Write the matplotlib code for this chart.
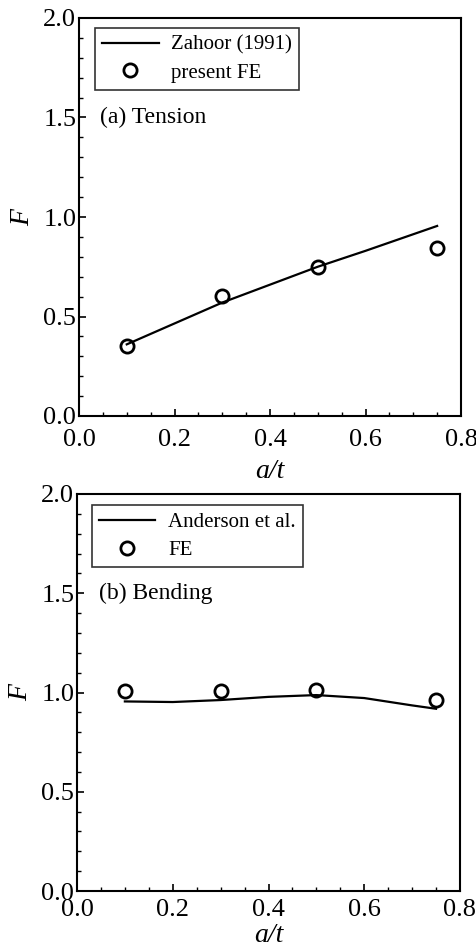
import numpy as np
import matplotlib.pyplot as plt
from matplotlib.ticker import MultipleLocator

plt.rcParams['font.family'] = 'Liberation Serif'

# (a) tension
line_a_x = [0.1, 0.2, 0.3, 0.4, 0.5, 0.6, 0.75]
line_a_y = [0.36, 0.465, 0.57, 0.66, 0.75, 0.83, 0.955]
fe_a_x = [0.1, 0.3, 0.5, 0.75]
fe_a_y = [0.35, 0.605, 0.75, 0.845]

# (b) bending
line_b_x = [0.1, 0.2, 0.3, 0.4, 0.5, 0.6, 0.7, 0.75]
line_b_y = [0.955, 0.952, 0.962, 0.978, 0.987, 0.972, 0.935, 0.918]
fe_b_x = [0.1, 0.3, 0.5, 0.75]
fe_b_y = [1.008, 1.008, 1.015, 0.962]

fig = plt.figure(figsize=(4.77, 9.52), dpi=100)
ax1 = fig.add_axes([79/477, 1-416/952, 382/477, 398/952])
ax2 = fig.add_axes([77/477, 1-891/952, 383/477, 397/952])

panels = [
    (ax1, line_a_x, line_a_y, fe_a_x, fe_a_y, 'Zahoor (1991)', 'present FE',
     '(a) Tension', (0.042, 0.975), 9, 6),
    (ax2, line_b_x, line_b_y, fe_b_x, fe_b_y, 'Anderson et al.', 'FE',
     '(b) Bending', (0.039, 0.972), 6, 1),
]

for ax, lx, ly, fx, fy, lname, fname, title, anchor, tpad, xpad in panels:
    ax.plot(lx, ly, color='black', linewidth=1.6, label=lname)
    ax.plot(fx, fy, 'o', markerfacecolor='none', markeredgecolor='black',
            markeredgewidth=2, markersize=9.5, label=fname)
    ax.set_xlim(0, 0.8)
    ax.set_ylim(0, 2.0)
    ax.xaxis.set_major_locator(MultipleLocator(0.2))
    ax.xaxis.set_minor_locator(MultipleLocator(0.05))
    ax.yaxis.set_major_locator(MultipleLocator(0.5))
    ax.yaxis.set_minor_locator(MultipleLocator(0.1))
    ax.tick_params(which='both', direction='in', top=False, right=False,
                   labelsize=19)
    ax.tick_params(axis='x', pad=tpad)
    ax.tick_params(axis='y', pad=2)
    ax.tick_params(which='major', length=5, width=1.2)
    ax.tick_params(which='minor', length=3, width=1)
    ax.xaxis.set_major_formatter(plt.FormatStrFormatter('%.1f'))
    ax.yaxis.set_major_formatter(plt.FormatStrFormatter('%.1f'))
    for s in ax.spines.values():
        s.set_linewidth(1.5)
    ax.set_xlabel('a/t', fontsize=20, fontstyle='italic', labelpad=xpad)
    ax.set_ylabel('F', fontsize=20, fontstyle='italic', labelpad=6)
    ax.text(0.045, 1.5, title, fontsize=17, va='center')
    leg = ax.legend(loc='upper left', bbox_to_anchor=anchor, borderaxespad=0,
                    fontsize=15, frameon=True, fancybox=False,
                    edgecolor='black', handlelength=2.7, handletextpad=0.6,
                    borderpad=0.35, labelspacing=0.4)
    leg.get_frame().set_linewidth(1.2)

fig.savefig('out.png', dpi=100)
